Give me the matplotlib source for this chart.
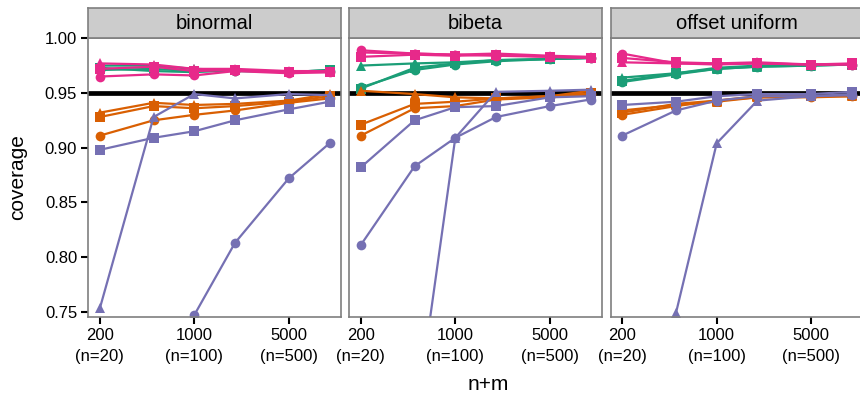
import matplotlib.pyplot as plt
import numpy as np

# --- Data ---
sizes = [200, 500, 1000, 2000, 5000, 10000]
tick_vals = [200, 1000, 5000]
tick_labels = ["200\n(n=20)", "1000\n(n=100)", "5000\n(n=500)"]
panels = ["binormal", "bibeta", "offset uniform"]

# each group: [circle, triangle, square]
binormal_green = [[0.971, 0.972, 0.970, 0.970, 0.969, 0.970],
                  [0.975, 0.975, 0.972, 0.971, 0.969, 0.971],
                  [0.973, 0.970, 0.969, 0.971, 0.969, 0.971]]
binormal_orange = [[0.911, 0.925, 0.930, 0.934, 0.941, 0.945],
                   [0.932, 0.941, 0.939, 0.940, 0.943, 0.949],
                   [0.928, 0.938, 0.936, 0.938, 0.942, 0.947]]
binormal_purple = [[0.62, 0.70, 0.747, 0.813, 0.872, 0.904],
                   [0.753, 0.928, 0.949, 0.945, 0.949, 0.948],
                   [0.898, 0.909, 0.915, 0.925, 0.935, 0.942]]
binormal_pink = [[0.965, 0.967, 0.966, 0.970, 0.968, 0.969],
                 [0.977, 0.976, 0.972, 0.972, 0.970, 0.970],
                 [0.972, 0.974, 0.970, 0.971, 0.969, 0.969]]

bibeta_green = [[0.955, 0.971, 0.976, 0.979, 0.981, 0.982],
                [0.975, 0.977, 0.978, 0.980, 0.981, 0.982],
                [0.954, 0.973, 0.977, 0.980, 0.981, 0.982]]
bibeta_orange = [[0.911, 0.936, 0.938, 0.944, 0.946, 0.949],
                 [0.952, 0.949, 0.946, 0.945, 0.947, 0.952],
                 [0.921, 0.940, 0.942, 0.945, 0.947, 0.950]]
bibeta_purple = [[0.811, 0.883, 0.909, 0.928, 0.938, 0.944],
                 [0.45, 0.643, 0.909, 0.951, 0.952, 0.953],
                 [0.882, 0.925, 0.937, 0.938, 0.946, 0.947]]
bibeta_pink = [[0.989, 0.986, 0.985, 0.984, 0.983, 0.982],
               [0.987, 0.986, 0.985, 0.986, 0.984, 0.983],
               [0.983, 0.985, 0.984, 0.985, 0.983, 0.982]]

offset_green = [[0.960, 0.967, 0.972, 0.974, 0.975, 0.976],
                [0.964, 0.968, 0.972, 0.974, 0.975, 0.976],
                [0.961, 0.968, 0.973, 0.975, 0.976, 0.976]]
offset_orange = [[0.930, 0.938, 0.943, 0.946, 0.946, 0.947],
                 [0.934, 0.939, 0.942, 0.946, 0.947, 0.947],
                 [0.932, 0.940, 0.943, 0.947, 0.947, 0.948]]
offset_purple = [[0.911, 0.934, 0.943, 0.947, 0.947, 0.948],
                 [0.50, 0.749, 0.904, 0.943, 0.947, 0.949],
                 [0.939, 0.942, 0.947, 0.949, 0.949, 0.951]]
offset_pink = [[0.986, 0.977, 0.976, 0.977, 0.976, 0.976],
               [0.978, 0.977, 0.977, 0.978, 0.976, 0.976],
               [0.982, 0.978, 0.977, 0.977, 0.976, 0.977]]

panel_data = [
    [binormal_green, binormal_orange, binormal_purple, binormal_pink],
    [bibeta_green, bibeta_orange, bibeta_purple, bibeta_pink],
    [offset_green, offset_orange, offset_purple, offset_pink],
]
colors = ["#1B9E77", "#D95F02", "#7570B3", "#E7298A"]
markers = ["o", "^", "s"]
target = 0.95

# --- Plot ---
plt.rcParams["font.family"] = ["Liberation Sans", "DejaVu Sans"]
fig = plt.figure(figsize=(8.6, 3.95), dpi=100)

W, H = 860, 395
lefts = [88.3, 349.3, 610.7]
pw = 252.7
top, bottom, strip_top = 37.7, 316.7, 8.0
border = "#7f7f7f"

xlo = 10 ** (np.log10(200) - 0.085)
xhi = 10 ** (4 + 0.085)

for i, name in enumerate(panels):
    ax = fig.add_axes([lefts[i] / W, 1 - bottom / H, pw / W, (bottom - top) / H])
    ax.axhline(target, color="black", linewidth=3.4, zorder=1)
    for group, col in zip(panel_data[i], colors):
        for vals, mk in zip(group, markers):
            ax.plot(sizes, vals, color=col, marker=mk, markersize=7,
                    linewidth=1.6, markeredgewidth=0, zorder=2)
    ax.set_xscale("log")
    ax.set_xlim(xlo, xhi)
    ax.set_ylim(0.7455, 1.0005)
    ax.xaxis.set_minor_locator(plt.NullLocator())
    ax.set_xticks(tick_vals)
    ax.set_xticklabels(tick_labels, fontsize=12, linespacing=1.5)
    ax.set_yticks([0.75, 0.80, 0.85, 0.90, 0.95, 1.00])
    ax.tick_params(axis="both", length=5, width=1.5, color="black",
                   labelcolor="black", labelsize=12, pad=3)
    if i == 0:
        ax.set_yticklabels(["0.75", "0.80", "0.85", "0.90", "0.95", "1.00"])
    else:
        ax.tick_params(axis="y", left=False, labelleft=False)
    for sp in ax.spines.values():
        sp.set_color(border)
        sp.set_linewidth(1.2)

    # facet strip
    sax = fig.add_axes([lefts[i] / W, 1 - top / H, pw / W, (top - strip_top) / H])
    sax.set_facecolor("#cccccc")
    sax.set_xticks([])
    sax.set_yticks([])
    for sp in sax.spines.values():
        sp.set_color(border)
        sp.set_linewidth(1.2)
    sax.text(0.5, 0.47, name, ha="center", va="center", fontsize=14.5,
             transform=sax.transAxes)

fig.text(488 / W, 1 - 385 / H, "n+m", ha="center", va="center", fontsize=15)
fig.text(18 / W, 1 - 177 / H, "coverage", ha="center", va="center",
         rotation=90, fontsize=15)

# --- Render ---
plt.savefig("out.png", dpi=100)
plt.close()
